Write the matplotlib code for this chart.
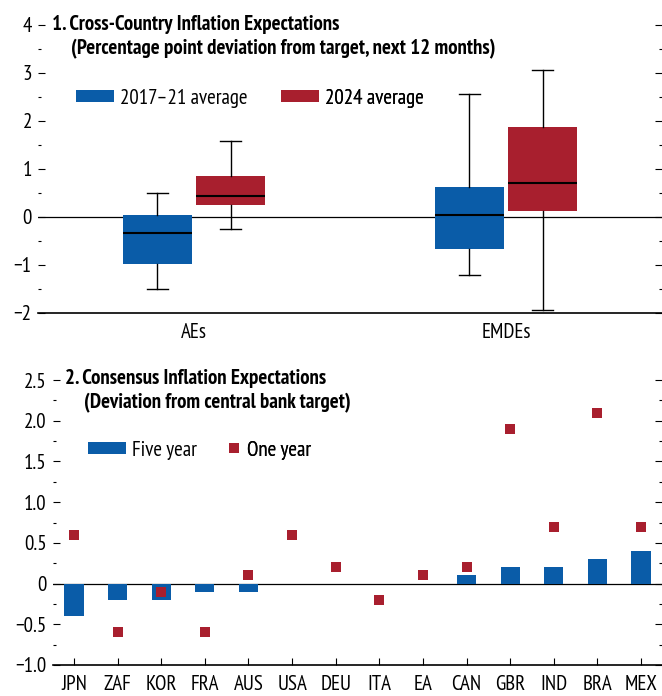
import matplotlib.pyplot as plt
from matplotlib.patches import Patch
from matplotlib.lines import Line2D
from matplotlib.ticker import MultipleLocator
import numpy as np

plt.rcParams['font.family'] = ['PT Sans Narrow', 'DejaVu Sans']

# Panel 1: box plot stats (whisker low, q1, median, q3, whisker high)
groups = ["AEs", "EMDEs"]
labels_1 = ["2017–21 average", "2024 average"]
aes_1721 = [-1.49, -0.97, -0.34, 0.04, 0.51]
aes_2024 = [-0.24, 0.26, 0.44, 0.86, 1.58]
emde_1721 = [-1.21, -0.67, 0.05, 0.63, 2.56]
emde_2024 = [-1.94, 0.12, 0.70, 1.88, 3.07]

# Panel 2: consensus expectations
countries = ["JPN", "ZAF", "KOR", "FRA", "AUS", "USA", "DEU", "ITA", "EA", "CAN", "GBR", "IND", "BRA", "MEX"]
five_year = [-0.4, -0.2, -0.2, -0.1, -0.1, 0, 0, 0, 0, 0.1, 0.2, 0.2, 0.3, 0.4]
one_year = [0.6, -0.6, -0.1, -0.6, 0.1, 0.6, 0.2, -0.2, 0.1, 0.2, 1.9, 0.7, 2.1, 0.7]

blue = "#0A5CA8"
red = "#A81F2E"
FS = 15
TFS = 15

W, H = 662, 696
fig = plt.figure(figsize=(W / 100, H / 100), dpi=100)


def fx(px):
    return px / W


def fy(py):
    return 1 - py / H


def style_y(ax):
    for s in ["top", "left", "right"]:
        ax.spines[s].set_visible(False)
    ax.spines["bottom"].set_linewidth(1.2)
    ax.tick_params(axis="y", which="both", direction="in", left=True, right=True,
                   labelsize=FS, pad=4.5)
    ax.tick_params(axis="y", which="major", length=5, width=0.8)
    ax.tick_params(axis="y", which="minor", length=2.5, width=0.8)
    ax.axhline(0, color="black", lw=0.9, zorder=1)


def to_stats(v):
    return dict(whislo=v[0], q1=v[1], med=v[2], q3=v[3], whishi=v[4], fliers=[])


# ---------------- Panel 1 ----------------
ax1 = fig.add_axes([fx(38), fy(313), 1 - fx(38), fy(25) - fy(313)])
style_y(ax1)
ax1.set_ylim(-2, 4)
ax1.set_xlim(-0.5, 1.5)
ax1.yaxis.set_major_locator(MultipleLocator(1))
ax1.yaxis.set_minor_locator(MultipleLocator(0.5))

x = np.arange(len(groups))
off = 0.117
bw = 0.218
for data, shift, col in [([aes_1721, emde_1721], -off, blue), ([aes_2024, emde_2024], off, red)]:
    ax1.bxp([to_stats(d) for d in data], positions=x + shift, widths=bw,
            capwidths=0.068, showfliers=False, patch_artist=True,
            boxprops=dict(facecolor=col, edgecolor="none"),
            medianprops=dict(color="black", lw=1.5),
            whiskerprops=dict(color="black", lw=1.0),
            capprops=dict(color="black", lw=1.0), manage_ticks=False, zorder=2)
ax1.set_xticks(x)
ax1.set_xticklabels(groups)
ax1.tick_params(axis="x", length=0, labelsize=FS, pad=7.5)

fig.text(fx(52), fy(25), "1. Cross-Country Inflation Expectations", fontsize=TFS,
         fontweight="bold", va="center", ha="left")
fig.text(fx(71), fy(49), "(Percentage point deviation from target, next 12 months)", fontsize=TFS,
         fontweight="bold", va="center", ha="left")

for lab, col, px in [(labels_1[0], blue, 76), (labels_1[1], red, 281)]:
    lg = ax1.legend(handles=[Patch(facecolor=col, edgecolor="none", label=lab)],
                    loc="center left", bbox_to_anchor=(fx(px), fy(98)),
                    bbox_transform=fig.transFigure, frameon=False, fontsize=FS,
                    borderpad=0, borderaxespad=0, handlelength=1.8, handleheight=0.5,
                    handletextpad=0.3)
    ax1.add_artist(lg)

# ---------------- Panel 2 ----------------
ax2 = fig.add_axes([fx(53), fy(665), 1 - fx(53), fy(380) - fy(665)])
style_y(ax2)
ax2.set_ylim(-1.0, 2.5)
ax2.set_xlim(-0.48, len(countries) - 1 + 0.48)
ax2.yaxis.set_major_locator(MultipleLocator(0.5))
ax2.yaxis.set_minor_locator(MultipleLocator(0.25))
ax2.yaxis.set_major_formatter(plt.FuncFormatter(
    lambda v, p: "0" if abs(v) < 1e-9 else f"{v:.1f}".replace("-", "\u2212")))

xc = np.arange(len(countries))
ax2.bar(xc, five_year, width=0.44, color=blue, zorder=2)
ax2.plot(xc, one_year, ls="none", marker="s", ms=7.2, mew=0, color=red, zorder=3)
ax2.set_xticks(xc)
ax2.set_xticklabels(countries)
ax2.tick_params(axis="x", direction="in", length=5, width=0.8, labelsize=FS, pad=7)

fig.text(fx(65), fy(379), "2. Consensus Inflation Expectations", fontsize=TFS,
         fontweight="bold", va="center", ha="left")
fig.text(fx(84), fy(403), "(Deviation from central bank target)", fontsize=TFS,
         fontweight="bold", va="center", ha="left")

lg = ax2.legend(handles=[Patch(facecolor=blue, edgecolor="none", label="Five year")],
                loc="center left", bbox_to_anchor=(fx(88), fy(450)),
                bbox_transform=fig.transFigure, frameon=False, fontsize=FS,
                borderpad=0, borderaxespad=0, handlelength=1.8, handleheight=0.5,
                handletextpad=0.3)
ax2.add_artist(lg)
lg = ax2.legend(handles=[Line2D([], [], ls="none", marker="s", ms=7.2, mew=0, color=red,
                                label="One year")],
                loc="center left", bbox_to_anchor=(fx(228), fy(450)),
                bbox_transform=fig.transFigure, frameon=False, fontsize=FS,
                borderpad=0, borderaxespad=0, handlelength=0.6,
                handletextpad=0.3)
ax2.add_artist(lg)

fig.savefig("out.png", dpi=100)
